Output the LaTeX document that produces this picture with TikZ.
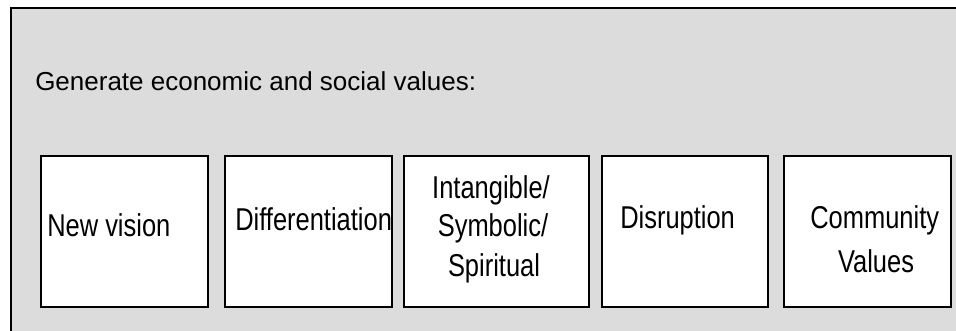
\documentclass[tikz,border=0pt]{standalone}
\usepackage{fontspec}
\setmainfont{Liberation Sans}
\definecolor{panelgray}{HTML}{DCDCDC}
\newcommand{\stretchtxt}[1]{\scalebox{1}[1.24]{#1}}
\begin{document}
\begin{tikzpicture}[x=0.75pt,y=-0.75pt,
  panel/.style={draw=black,line width=1.3pt,fill=panelgray},
  valbox/.style={draw=black,line width=1.5pt,fill=white,inner sep=0pt,outer sep=0pt,
    minimum height={151*0.75pt}},
  boxtext/.style={inner sep=0pt,font=\fontsize{19.1pt}{23pt}\selectfont},
  titletext/.style={inner sep=0pt,font=\fontsize{19.5pt}{23pt}\selectfont}]
\useasboundingbox (0,0) rectangle (956,331);
\clip (0,0) rectangle (956,331);
\fill[white] (0,0) rectangle (956,331);
\draw[panel] (11,8) rectangle (970,345);
\node[titletext,anchor=base west] (title) at (35,91) {Generate economic and social values:};
% boxes
\node[valbox,minimum width={167*0.75pt}] (b1) at (124.5,231.5) {};
\node[valbox,minimum width={167*0.75pt}] (b2) at (308.5,231.5) {};
\node[valbox,minimum width={185*0.75pt}] (b3) at (496.5,231.5) {};
\node[valbox,minimum width={166*0.75pt}] (b4) at (685,231.5) {};
\node[valbox,minimum width={167*0.75pt}] (b5) at (867.5,231.5) {};
% texts
\node[boxtext,anchor=base west] (t1) at (47,237) {\stretchtxt{New vision}};
\node[boxtext,anchor=base west] (t2) at (235,230.7) {\stretchtxt{Differentiation}};
\node[boxtext,anchor=base] (t3a) at (491,198.3) {\stretchtxt{Intangible/}};
\node[boxtext,anchor=base] (t3b) at (493,236.7) {\stretchtxt{Symbolic/}};
\node[boxtext,anchor=base] (t3c) at (494,276.7) {\stretchtxt{Spiritual}};
\node[boxtext,anchor=base west] (t4) at (620,228.3) {\stretchtxt{Disruption}};
\node[boxtext,anchor=base] (t5a) at (874.7,228.3) {\stretchtxt{Community}};
\node[boxtext,anchor=base] (t5b) at (876,272.7) {\stretchtxt{Values}};
\end{tikzpicture}
\end{document}
